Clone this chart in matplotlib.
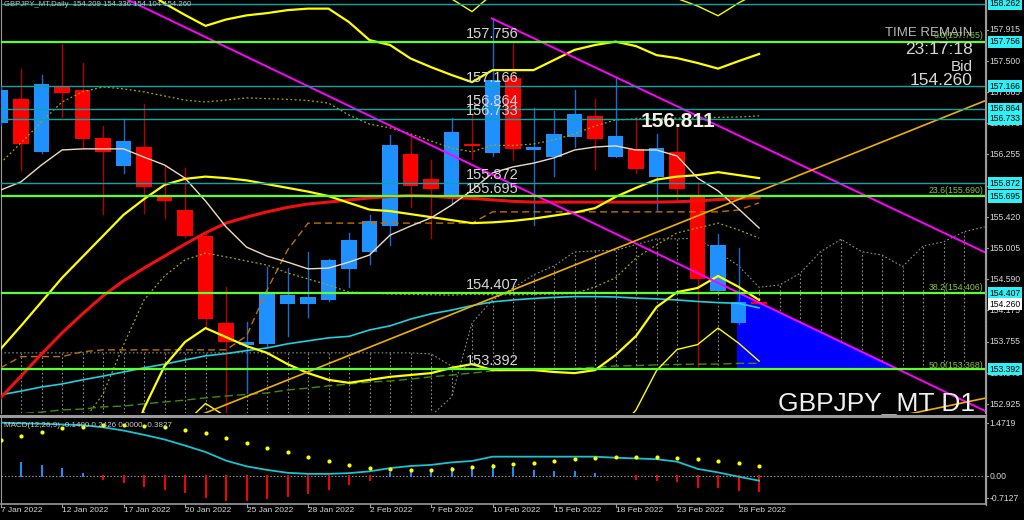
import matplotlib
matplotlib.use("Agg")
import matplotlib.pyplot as plt
import matplotlib.transforms as mtransforms
from matplotlib.lines import Line2D
from matplotlib.patches import Rectangle, Polygon

plt.rcParams['font.family'] = ['Liberation Sans', 'DejaVu Sans']

# =============================================================================
# DATA
# =============================================================================

dates = ["7 Jan 2022", "10 Jan 2022", "11 Jan 2022", "12 Jan 2022", "13 Jan 2022",
         "14 Jan 2022", "17 Jan 2022", "18 Jan 2022", "19 Jan 2022", "20 Jan 2022",
         "21 Jan 2022", "24 Jan 2022", "25 Jan 2022", "26 Jan 2022", "27 Jan 2022",
         "28 Jan 2022", "31 Jan 2022", "1 Feb 2022", "2 Feb 2022", "3 Feb 2022",
         "4 Feb 2022", "7 Feb 2022", "8 Feb 2022", "9 Feb 2022", "10 Feb 2022",
         "11 Feb 2022", "14 Feb 2022", "15 Feb 2022", "16 Feb 2022", "17 Feb 2022",
         "18 Feb 2022", "21 Feb 2022", "22 Feb 2022", "23 Feb 2022", "24 Feb 2022",
         "25 Feb 2022", "28 Feb 2022", "1 Mar 2022"]

opens = [156.68, 156.99, 156.285, 157.15, 157.115, 156.47, 156.106, 156.35, 155.72, 155.515,
         155.17, 154.005, 153.72, 153.725, 154.26, 154.262, 154.31, 154.73, 154.96, 155.295,
         156.26, 155.93, 155.69, 156.40, 156.28, 157.27, 156.31, 156.22, 156.485, 156.77,
         156.22, 156.33, 155.96, 156.29, 155.69, 154.44, 154.01, 154.285]
highs = [157.15, 157.39, 157.315, 157.73, 157.48, 156.63, 156.73, 156.925, 156.12, 156.07,
         155.19, 154.49, 154.025, 154.75, 154.74, 154.96, 154.86, 155.21, 155.45, 156.51,
         156.49, 156.18, 156.74, 156.80, 158.07, 157.74, 156.87, 156.83, 157.12, 157.0,
         157.29, 156.76, 156.53, 156.66, 155.89, 155.19, 155.01, 154.285]
lows = [156.65, 156.05, 156.27, 156.76, 156.34, 155.46, 156.01, 155.48, 155.41, 155.15,
        153.94, 152.75, 153.07, 153.70, 153.83, 154.09, 154.30, 154.49, 154.80, 155.05,
        155.56, 155.14, 155.605, 156.20, 156.23, 156.18, 155.31, 155.97, 156.36, 156.06,
        156.22, 156.01, 155.51, 155.65, 153.43, 154.41, 153.99, 154.255]
closes = [157.12, 156.39, 157.20, 157.08, 156.46, 156.285, 156.43, 155.82, 155.63, 155.17,
          154.066, 153.76, 153.76, 154.405, 154.378, 154.36, 154.85, 155.115, 155.37, 156.38,
          155.83, 155.80, 156.55, 156.37, 157.25, 156.33, 156.36, 156.53, 156.80, 156.46,
          156.50, 156.06, 156.34, 155.795, 154.59, 155.05, 154.29, 154.255]

bb_mid = [153.66, 153.97, 154.29, 154.61, 154.89, 155.17, 155.45, 155.66, 155.85, 155.93,
          155.96, 155.94, 155.91, 155.86, 155.81, 155.76, 155.70, 155.61, 155.52, 155.50,
          155.46, 155.42, 155.38, 155.34, 155.35, 155.37, 155.40, 155.44, 155.48, 155.54,
          155.69, 155.81, 155.92, 155.96, 155.98, 156.02, 155.98, 155.94]
bb_up2 = [158.62, 158.85, 159.09, 159.30, 159.29, 159.14, 158.81, 158.45, 158.27, 158.115,
          157.97, 158.055, 158.11, 158.14, 158.18, 158.20, 158.20, 158.02, 157.78, 157.715,
          157.535, 157.42, 157.315, 157.22, 157.38, 157.38, 157.38, 157.515, 157.65, 157.715,
          157.76, 157.70, 157.58, 157.54, 157.475, 157.40, 157.50, 157.595]
bb_lo2 = [148.70, 149.09, 149.49, 149.92, 150.49, 151.20, 152.09, 152.87, 153.435, 153.755,
          153.94, 153.82, 153.70, 153.61, 153.46, 153.34, 153.25, 153.21, 153.25, 153.29,
          153.315, 153.34, 153.41, 153.46, 153.38, 153.38, 153.38, 153.355, 153.34, 153.38,
          153.58, 153.835, 154.22, 154.42, 154.475, 154.635, 154.49, 154.315]
bb_up3 = [161.1, 161.3, 161.5, 161.65, 161.5, 161.1, 160.5, 159.95, 159.475, 159.21,
          158.98, 159.115, 159.21, 159.28, 159.37, 159.42, 159.45, 159.23, 158.915, 158.82,
          158.57, 158.42, 158.33, 158.16, 158.395, 158.39, 158.375, 158.555, 158.735, 158.80,
          158.795, 158.65, 158.415, 158.335, 158.235, 158.105, 158.275, 158.42]
bb_lo3 = [146.2, 146.6, 147.1, 147.6, 148.3, 149.2, 150.4, 151.37, 152.23, 152.67,
          152.935, 152.76, 152.595, 152.48, 152.29, 152.135, 152.02, 152.01, 152.115, 152.18,
          152.24, 152.30, 152.42, 152.52, 152.395, 152.39, 152.375, 152.315, 152.275, 152.30,
          152.53, 152.85, 153.375, 153.655, 153.72, 153.94, 153.74, 153.50]
bb_up1 = [156.14, 156.41, 156.69, 156.955, 157.09, 157.155, 157.13, 157.09, 157.035, 156.98,
          156.955, 156.98, 157.01, 157.00, 156.99, 156.975, 156.94, 156.78, 156.66, 156.61,
          156.53, 156.435, 156.34, 156.29, 156.38, 156.375, 156.395, 156.45, 156.53, 156.635,
          156.715, 156.73, 156.735, 156.74, 156.74, 156.75, 156.755, 156.77]
bb_lo1 = [151.18, 151.53, 151.89, 152.265, 152.69, 153.06, 153.715, 154.315, 154.635, 154.85,
          154.94, 154.89, 154.835, 154.78, 154.675, 154.595, 154.515, 154.42, 154.41, 154.395,
          154.39, 154.385, 154.38, 154.39, 154.385, 154.385, 154.39, 154.395, 154.40, 154.49,
          154.61, 154.875, 155.05, 155.21, 155.275, 155.34, 155.25, 155.14]

ma_red = [153.01, 153.30, 153.595, 153.875, 154.13, 154.37, 154.57, 154.74, 154.90, 155.06,
          155.21, 155.34, 155.42, 155.49, 155.55, 155.595, 155.62, 155.65, 155.675, 155.695,
          155.71, 155.70, 155.68, 155.67, 155.65, 155.63, 155.62, 155.62, 155.62, 155.62,
          155.62, 155.62, 155.62, 155.625, 155.635, 155.655, 155.67, 155.68]
ma_cyan = [153.05, 153.10, 153.155, 153.195, 153.25, 153.30, 153.355, 153.41, 153.46, 153.515,
           153.57, 153.60, 153.64, 153.675, 153.73, 153.77, 153.81, 153.83, 153.915, 153.97,
           154.06, 154.13, 154.18, 154.24, 154.29, 154.315, 154.335, 154.35, 154.36, 154.36,
           154.355, 154.34, 154.33, 154.315, 154.295, 154.28, 154.27, 154.21]
ma_beige = [155.78, 155.89, 156.115, 156.315, 156.33, 156.33, 156.33, 156.22, 156.115, 155.94,
            155.635, 155.29, 155.02, 154.90, 154.82, 154.73, 154.74, 154.82, 154.915, 155.18,
            155.30, 155.41, 155.58, 155.78, 156.01, 156.09, 156.14, 156.21, 156.315, 156.355,
            156.37, 156.315, 156.315, 156.235, 155.94, 155.77, 155.53, 155.275]
kijun = [153.41, 153.56, 153.56, 153.56, 153.625, 153.65, 153.65, 153.65, 153.65, 153.65,
         153.65, 153.65, 153.835, 154.45, 154.98, 155.34, 155.34, 155.34, 155.34, 155.34,
         155.34, 155.34, 155.34, 155.34, 155.49, 155.49, 155.49, 155.49, 155.49, 155.49,
         155.49, 155.49, 155.49, 155.49, 155.49, 155.49, 155.515, 155.61]
green_dash = [152.78, 152.80, 152.82, 152.85, 152.86, 152.89, 152.90, 152.93, 152.955, 152.98,
              153.01, 153.035, 153.055, 153.075, 153.115, 153.14, 153.17, 153.195, 153.22, 153.235,
              153.26, 153.29, 153.315, 153.34, 153.37, 153.38, 153.39, 153.395, 153.40, 153.42,
              153.435, 153.44, 153.45, 153.455, 153.46, 153.46, 153.47, 153.47]

# ichimoku cloud (shifted 26 bars ahead, so 49 values)
span_a = [153.61, 153.61, 153.61, 153.61, 153.61, 153.61, 153.61, 153.61, 153.61, 153.61,
          153.61, 153.61, 153.61, 153.61, 153.61, 153.61, 153.61, 153.61, 153.61, 153.61,
          153.61, 153.595, 153.435, 153.40, 153.40, 153.40, 153.40, 153.40, 153.40, 153.40,
          153.40, 153.40, 153.40, 153.40, 153.40, 153.40, 153.40, 153.40, 153.40, 153.40,
          153.40, 153.40, 153.40, 153.40, 153.40, 153.40, 153.40, 153.40, 153.40]
span_b = [152.45, 152.45, 152.45, 152.45, 152.45, 152.45, 152.45, 152.45, 152.45, 152.45,
          152.45, 152.45, 152.45, 152.45, 152.45, 152.45, 152.45, 152.45, 152.45, 152.45,
          152.45, 152.77, 153.02, 154.01, 154.315, 154.475, 154.65, 154.77, 154.955, 154.97,
          154.975, 155.055, 155.13, 155.13, 155.14, 154.955, 154.77, 154.485, 154.515, 154.67,
          154.96, 155.125, 154.96, 154.915, 154.76, 155.035, 155.09, 155.225, 155.29]

teal_levels = [158.262, 157.166, 156.864, 156.733, 155.872]
green_levels = [157.756, 155.695, 154.407, 153.392]
axis_ticks = [157.915, 157.500, 157.085, 156.670, 156.255, 155.840, 155.420,
              155.005, 154.590, 154.175, 153.755, 153.340, 152.925]
bid = 154.260
fib_labels = ["0.0(157.765)", "23.6(155.690)", "38.2(154.406)", "50.0(153.368)"]
fib_values = [157.765, 155.690, 154.406, 153.368]

magenta_lines = [((6.0, 158.345), (48.1, 152.825)), ((23.96, 158.07), (48.1, 154.94))]
gold_lines = [((9.0, 152.70), (48.1, 156.98)), ((43.88, 152.77), (48.1, 153.01))]
tri_x = [35.9, 35.9, 43.88]
tri_y = [154.42, 153.39, 153.39]

macd_hist = [0.49, 0.37, 0.29, 0.20, 0.06, -0.08, -0.18, -0.27, -0.36, -0.44,
             -0.58, -0.67, -0.67, -0.62, -0.56, -0.48, -0.36, -0.22, -0.11, 0.09,
             0.14, 0.14, 0.21, 0.24, 0.31, 0.23, 0.15, 0.12, 0.10, 0.05,
             0.01, -0.07, -0.11, -0.14, -0.30, -0.32, -0.39, -0.42]
macd_line = [1.49, 1.47, 1.46, 1.44, 1.42, 1.36, 1.27, 1.15, 1.02, 0.85,
             0.67, 0.43, 0.27, 0.17, 0.09, 0.06, 0.06, 0.08, 0.13, 0.22,
             0.28, 0.31, 0.38, 0.42, 0.54, 0.54, 0.54, 0.54, 0.54, 0.54,
             0.51, 0.49, 0.47, 0.40, 0.20, 0.10, -0.02, -0.13]
macd_signal = [1.01, 1.13, 1.24, 1.33, 1.38, 1.42, 1.42, 1.41, 1.36, 1.28,
               1.19, 1.07, 0.93, 0.79, 0.66, 0.52, 0.42, 0.31, 0.21, 0.19,
               0.17, 0.17, 0.19, 0.24, 0.28, 0.34, 0.37, 0.43, 0.47, 0.49,
               0.52, 0.52, 0.52, 0.49, 0.47, 0.43, 0.35, 0.28]

# =============================================================================
# STYLE
# =============================================================================

BULL, BULL_WICK = '#1e90ff', '#1a6ad0'
BEAR, BEAR_WICK = '#ff0000', '#b00000'
YELLOW = '#ffff00'
TEXT = '#d8d8d8'
GRAY = '#8c8c8c'

W, H = 1024, 520
X0, X1 = 0.024, 48.02

fig = plt.figure(figsize=(W / 100, H / 100), dpi=100, facecolor='black')
ax = fig.add_axes([1 / W, (H - 413) / H, 984 / W, 413 / H], facecolor='black')
mx = fig.add_axes([1 / W, (H - 504) / H, 984 / W, 86 / H], facecolor='black')

for a in (ax, mx):
    a.set_xlim(X0, X1)
    a.set_xticks([])
    a.set_yticks([])
    for s in a.spines.values():
        s.set_visible(False)
    a.spines['left'].set_visible(True)
    a.spines['right'].set_visible(True)
    a.spines['left'].set_color('#9a9a9a')
    a.spines['right'].set_color('#9a9a9a')
mx.spines['bottom'].set_visible(True)
mx.spines['bottom'].set_color('#9a9a9a')
mx.spines['bottom'].set_linewidth(1.2)

ax.set_ylim(152.808, 158.315)
mx.set_ylim(-0.782, 1.62)

# separator between panels and continuous right border
fig.add_artist(Line2D([0, 985 / W], [(H - 416) / H] * 2, color='#9a9a9a', lw=2.2))
fig.add_artist(Line2D([985.5 / W] * 2, [(H - 505) / H, 1], color='#9a9a9a', lw=0.9))

bars = range(len(opens))

# ---- ichimoku hatch ----
for i in range(len(span_a)):
    ax.plot([i, i], [span_a[i], span_b[i]], color=GRAY, lw=0.8, ls=(0, (1.5, 2)), zorder=1)
ax.plot(range(len(span_a)), span_a, color=GRAY, lw=0.8, ls=(0, (1.5, 2)), zorder=1)
ax.plot(range(len(span_b)), span_b, color=GRAY, lw=0.8, ls=(0, (1.5, 2)), zorder=1)

# ---- triangle ----
ax.add_patch(Polygon(list(zip(tri_x, tri_y)), closed=True, fc='#0000ff', ec='none', zorder=2))

# ---- candles ----
for i, (o, h, l, c) in enumerate(zip(opens, highs, lows, closes)):
    up = c >= o
    ax.plot([i, i], [l, h], color=BULL_WICK if up else BEAR_WICK, lw=1, zorder=3)
    lo, hi = min(o, c), max(o, c)
    ax.add_patch(Rectangle((i - 0.38, lo), 0.76, max(hi - lo, 0.025),
                           fc=BULL if up else BEAR, ec='none', zorder=3.1))

# ---- indicators ----
ax.plot(bars, kijun, color='#c07000', lw=1, ls=(0, (5, 3)), zorder=4)
ax.plot(bars, green_dash, color='#3f8f00', lw=1, ls=(0, (6, 3)), zorder=4)
ax.plot(bars, bb_up1, color='#a8a800', lw=0.9, ls=(0, (1.5, 2)), zorder=4)
ax.plot(bars, bb_lo1, color='#a8a800', lw=0.9, ls=(0, (1.5, 2)), zorder=4)
ax.plot(bars, bb_up3, color=YELLOW, lw=1, zorder=4)
ax.plot(bars, bb_lo3, color=YELLOW, lw=1, zorder=4)
ax.plot(bars, ma_cyan, color='#20d0e0', lw=1.2, zorder=4.1)
ax.plot(bars, ma_red, color='#f01010', lw=2.2, zorder=4.2)
ax.plot(bars, bb_up2, color=YELLOW, lw=1.6, zorder=4.3)
ax.plot(bars, bb_lo2, color=YELLOW, lw=1.6, zorder=4.3)
ax.plot(bars, bb_mid, color=YELLOW, lw=1.6, zorder=4.3)
ax.plot(bars, ma_beige, color='#f0dcc0', lw=1, zorder=4.4)

for (xa, ya), (xb, yb) in magenta_lines:
    ax.plot([xa, xb], [ya, yb], color='#ff00ff', lw=1.4, zorder=5)
for (xa, ya), (xb, yb) in gold_lines:
    ax.plot([xa, xb], [ya, yb], color='#f0b000', lw=1.2, zorder=5)

# ---- horizontal levels ----
for lv in teal_levels:
    ax.axhline(lv, color='#0aa5a5', lw=1, zorder=5)
for lv in green_levels:
    ax.axhline(lv, color='#5cff2c', lw=1.6, zorder=5)
for lv in teal_levels + green_levels:
    ax.text(22.71, lv + 0.05, "%.3f" % lv, color=TEXT, fontsize=10.5, va='baseline',
            ha='left', zorder=6, clip_on=True)

for lab, v in zip(fib_labels, fib_values):
    ax.text(47.93, v + 0.02, lab, color='#8cc43c', fontsize=6.3, ha='right', va='bottom', zorder=6)

# ---- right price axis ----
rt = mtransforms.blended_transform_factory(ax.transAxes, ax.transData)
for t in axis_ticks:
    ax.text(1.0045, t, "%.3f" % t, transform=rt, color=TEXT, fontsize=6.2, va='center',
            ha='left', clip_on=False)
    ax.plot([1.0, 1.003], [t, t], transform=rt, color='#9a9a9a', lw=0.8, clip_on=False)
for lv in teal_levels + green_levels:
    ax.text(1.0045, lv, "%.3f" % lv, transform=rt, color='black', fontsize=6.2, va='center',
            ha='left', clip_on=False, zorder=7,
            bbox=dict(boxstyle='square,pad=0.18', fc='#2ef0f5', ec='none'))
ax.text(1.0045, bid, "%.3f" % bid, transform=rt, color='black', fontsize=6.2, va='center',
        ha='left', clip_on=False, zorder=7,
        bbox=dict(boxstyle='square,pad=0.18', fc='white', ec='none'))

# ---- texts ----
ax.text(0.003, 0.997, "GBPJPY_MT,Daily  154.209 154.336 154.104 154.260", transform=ax.transAxes,
        color='#c0c0c0', fontsize=5.6, va='top', ha='left', zorder=8)
ax.text(31.2, 156.69, "156.811", color='#f4f1e4', fontsize=15, fontweight='bold',
        va='center', ha='left', zorder=8)
ax.text(47.42, 157.875, "TIME REMAIN", color='#b8b8b8', fontsize=9.5, va='center', ha='right', zorder=8)
ax.text(47.42, 157.66, "23:17:18", color=TEXT, fontsize=12.5, va='center', ha='right', zorder=8)
ax.text(47.42, 157.42, "Bid", color=TEXT, fontsize=11, va='center', ha='right', zorder=8)
ax.text(47.42, 157.235, "154.260", color=TEXT, fontsize=12.5, va='center', ha='right', zorder=8)
ax.text(47.54, 152.83, "GBPJPY_MT D1", color='#f0f0f0', fontsize=19, va='baseline',
        ha='right', zorder=8)

# ---- MACD panel ----
mx.axhline(0, color='#a0a0a0', lw=0.7, ls=(0, (1.5, 2)))
for i, v in enumerate(macd_hist):
    mx.plot([i, i], [0, v], color=BULL if v >= 0 else BEAR, lw=1.4, zorder=2)
mx.plot(bars, macd_line, color='#19c3d3', lw=1.3, zorder=3)
mx.scatter(bars, macd_signal, s=9, color=YELLOW, zorder=4, linewidths=0)
mx.text(0.003, 0.95, "MACD(12,26,9) -0.1400 0.2426 0.0000 -0.3827", transform=mx.transAxes,
        color='#c8c8c8', fontsize=5.8, va='top', ha='left', zorder=5)

mt = mtransforms.blended_transform_factory(mx.transAxes, mx.transData)
for val, pos in [("1.4719", 1.47), ("0.00", 0.0), ("-0.7127", -0.62)]:
    mx.text(1.0045, pos, val, transform=mt, color=TEXT, fontsize=6.2, va='center',
            ha='left', clip_on=False)
    mx.plot([1.0, 1.003], [pos, pos], transform=mt, color='#9a9a9a', lw=0.8, clip_on=False)

# ---- date axis ----
dt = mtransforms.blended_transform_factory(mx.transData, mx.transAxes)
for i in range(0, len(dates), 3):
    mx.text(i, -0.03, dates[i], transform=dt, color=TEXT, fontsize=6, va='top', ha='left',
            clip_on=False)
    mx.plot([i, i], [0, -0.035], transform=dt, color='#9a9a9a', lw=0.8, clip_on=False)

fig.savefig('out.png', dpi=100, facecolor='black')
